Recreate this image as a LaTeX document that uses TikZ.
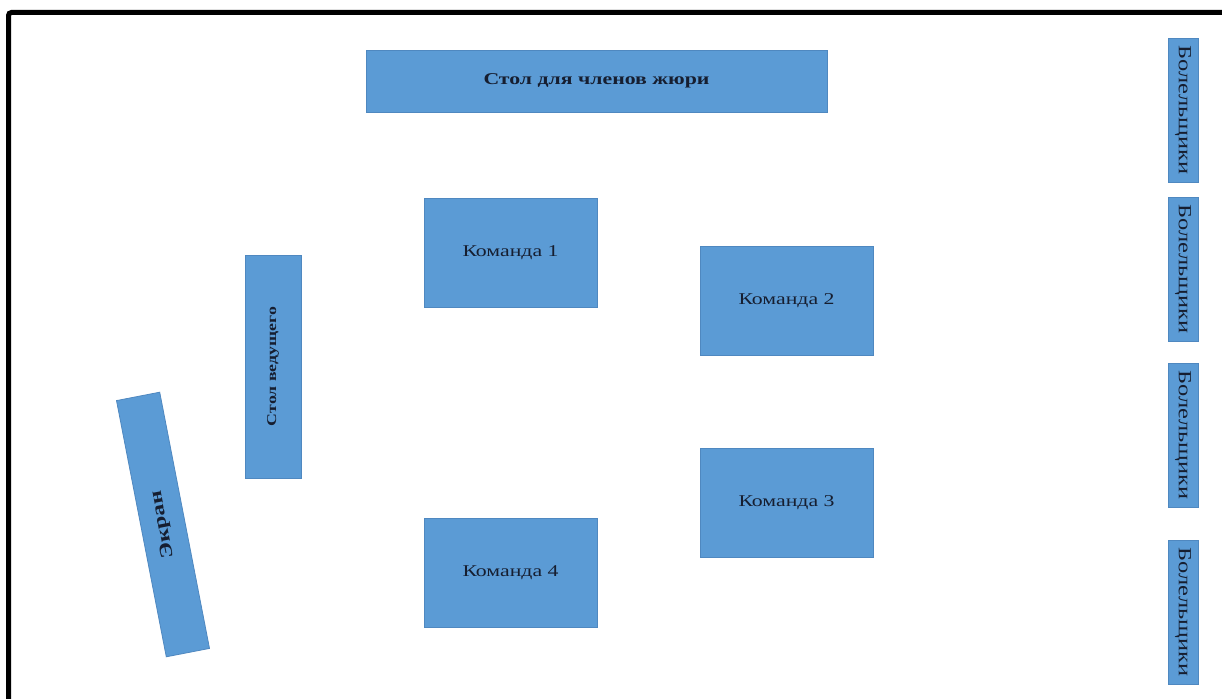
\documentclass[tikz,border=0pt]{standalone}
\usepackage{fontspec}
\setmainfont{Liberation Serif}
\newfontfamily\wideserif[FakeStretch=1.32]{Liberation Serif}
\definecolor{boxfill}{HTML}{5B9BD5}
\definecolor{boxline}{HTML}{4F88C0}
\definecolor{txt}{RGB}{22,30,48}
\tikzset{
  tbl/.style={draw=boxline, line width=0.8pt, fill=boxfill, inner sep=0pt, text=txt, anchor=center},
  teamtext/.style={font=\wideserif\fontsize{16.5}{18}\selectfont},
}
\begin{document}
\begin{tikzpicture}[x=1pt,y=-1pt]
\useasboundingbox (0,0) rectangle (1222,698);
\fill[white] (0,0) rectangle (1222,698);
% outer border
\coordinate (bl) at (8.5,720);
\coordinate (tl) at (8.5,12.5);
\coordinate (tr) at (1240,12.5);
\draw[line width=5pt, rounded corners=3pt] (bl) -- (tl) -- (tr);
% jury table
\node[tbl, minimum width=461, minimum height=62, font=\wideserif\bfseries\fontsize{16.5}{18}\selectfont] (jury) at (596.5,81) {Стол для членов жюри};
% teams
\node[tbl, teamtext, minimum width=173, minimum height=109] (k1) at (510.5,252.5) {Команда 1};
\node[tbl, teamtext, minimum width=173, minimum height=109] (k2) at (786.5,300.5) {Команда 2};
\node[tbl, teamtext, minimum width=173, minimum height=109] (k3) at (786.5,502.5) {Команда 3};
\node[tbl, teamtext, minimum width=173, minimum height=109] (k4) at (510.5,573) {Команда 4};
% host table
\node[tbl, rotate=90, minimum width=223, minimum height=56, font=\wideserif\bfseries\fontsize{13.5}{15}\selectfont] (host) at (273,366.5) {Стол ведущего};
% screen
\node[tbl, rotate=101, minimum width=261, minimum height=44, font=\wideserif\bfseries\fontsize{18}{20}\selectfont] (screen) at (163,524.5) {Экран};
% fans
\foreach \y/\n in {110/f1,269/f2,435/f3,612/f4}{
  \node[tbl, rotate=-90, minimum width=144, minimum height=30, font=\wideserif\fontsize{18.5}{20}\selectfont] (\n) at (1183,\y) {Болельщики};
}
\end{tikzpicture}
\end{document}
